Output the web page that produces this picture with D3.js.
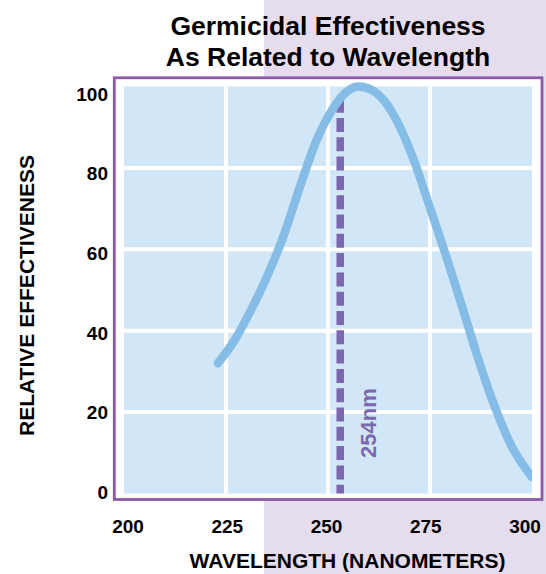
<!DOCTYPE html>
<html>
<head>
<meta charset="utf-8">
<script src="https://cdn.jsdelivr.net/npm/d3@7"></script>
<style>
  html, body { margin: 0; padding: 0; background: #fff; }
  svg { display: block; font-family: "Liberation Sans", Arial, sans-serif; }
</style>
</head>
<body>
<svg id="chart" width="546" height="574"></svg>
<script>
// ---- Data ----
const titleLines = ["Germicidal Effectiveness", "As Related to Wavelength"];
const xTickValues = [200, 225, 250, 275, 300];
const yTickValues = [0, 20, 40, 60, 80, 100];
const wavelength = [223, 227, 231, 235, 239, 243, 247, 251, 254, 257.5, 261, 264, 267, 271, 275, 279, 283, 287, 291, 295, 300];
const effectiveness = [32, 37.5, 44.8, 53.2, 63, 75, 86.3, 94.2, 98.2, 100, 99, 96.2, 91.3, 82, 70.2, 58.2, 45.5, 32.5, 21, 11.6, 4];
const markerWavelength = [253];
const markerRange = [0, 97];
const markerLabel = "254nm";
const xAxisTitle = "WAVELENGTH (NANOMETERS)";
const yAxisTitle = "RELATIVE EFFECTIVENESS";

// ---- Setup ----
const svg = d3.select("#chart");
const W = 546, H = 574;
const plot = { left: 124, right: 532, top: 86.5, bottom: 493.5 };

const x = d3.scaleLinear().domain([200, 300]).range([plot.left, plot.right]);
const y = d3.scaleLinear().domain([0, 100]).range([plot.bottom, plot.top]);
// label placement scales (labels sit slightly inset in the reference)
const xLab = d3.scaleLinear().domain([200, 300]).range([128, 525]);
const yLab = d3.scaleLinear().domain([0, 100]).range([492, 94]);

// lavender background panel
svg.append("rect").attr("x", 264).attr("y", 0).attr("width", W - 264).attr("height", H)
  .attr("fill", "#e5dcee");

// bordered frame
svg.append("rect").attr("x", 114.3).attr("y", 77.8).attr("width", 427.7).attr("height", 421.7)
  .attr("fill", "#ffffff").attr("stroke", "#8c5aa8").attr("stroke-width", 2.8);

// plot cells background
svg.append("rect").attr("x", plot.left).attr("y", plot.top)
  .attr("width", plot.right - plot.left).attr("height", plot.bottom - plot.top)
  .attr("fill", "#d1e6f6");

// white grid lines
const grid = svg.append("g").attr("stroke", "#ffffff").attr("stroke-width", 4);
grid.selectAll("line.v").data(xTickValues.slice(1, -1)).join("line")
  .attr("x1", d => x(d)).attr("x2", d => x(d))
  .attr("y1", plot.top).attr("y2", plot.bottom);
grid.selectAll("line.h").data(yTickValues.slice(1, -1)).join("line")
  .attr("y1", d => y(d)).attr("y2", d => y(d))
  .attr("x1", plot.left).attr("x2", plot.right);

// clip
svg.append("clipPath").attr("id", "clip").append("rect")
  .attr("x", plot.left - 10).attr("y", plot.top - 10)
  .attr("width", plot.right - plot.left + 10).attr("height", plot.bottom - plot.top + 10);

// dashed marker line
svg.append("g").selectAll("line").data(markerWavelength).join("line")
  .attr("x1", d => x(d)).attr("x2", d => x(d))
  .attr("y1", y(markerRange[1])).attr("y2", y(markerRange[0]))
  .attr("stroke", "#7b68b0").attr("stroke-width", 7.5)
  .attr("stroke-dasharray", "14,5.3");

// curve
const pts = wavelength.map((w, i) => [w, effectiveness[i]]);
const line = d3.line().x(d => x(d[0])).y(d => y(d[1])).curve(d3.curveMonotoneX);
svg.append("path").datum(pts)
  .attr("d", line)
  .attr("fill", "none")
  .attr("stroke", "#85bde6")
  .attr("stroke-width", 8.5)
  .attr("stroke-linecap", "round")
  .attr("clip-path", "url(#clip)");

// marker label
svg.append("text")
  .attr("transform", `translate(${x(261.8)},${y(17.3)}) rotate(-90)`)
  .attr("text-anchor", "middle")
  .attr("font-size", 22).attr("font-weight", "bold")
  .attr("fill", "#7b68b0")
  .text(markerLabel);

// y tick labels
svg.append("g").selectAll("text").data(yTickValues).join("text")
  .attr("x", 108).attr("y", d => yLab(d)).attr("dy", "0.36em")
  .attr("text-anchor", "end").attr("font-size", 19).attr("font-weight", "bold")
  .attr("fill", "#000").text(d => d);

// x tick labels
svg.append("g").selectAll("text").data(xTickValues).join("text")
  .attr("x", d => xLab(d)).attr("y", 533)
  .attr("text-anchor", "middle").attr("font-size", 19).attr("font-weight", "bold")
  .attr("fill", "#000").text(d => d);

// axis titles
svg.append("text").attr("x", 347.5).attr("y", 568)
  .attr("text-anchor", "middle").attr("font-size", 21).attr("font-weight", "bold")
  .attr("fill", "#000").text(xAxisTitle);
svg.append("text").attr("transform", "translate(33.5,295.5) rotate(-90)")
  .attr("text-anchor", "middle").attr("font-size", 21).attr("font-weight", "bold")
  .attr("fill", "#000").text(yAxisTitle);

// title
svg.append("g").selectAll("text").data(titleLines).join("text")
  .attr("x", 328).attr("y", (d, i) => 35 + i * 31)
  .attr("text-anchor", "middle").attr("font-size", 26.5).attr("font-weight", "bold")
  .attr("fill", "#000").text(d => d);
</script>
</body>
</html>
